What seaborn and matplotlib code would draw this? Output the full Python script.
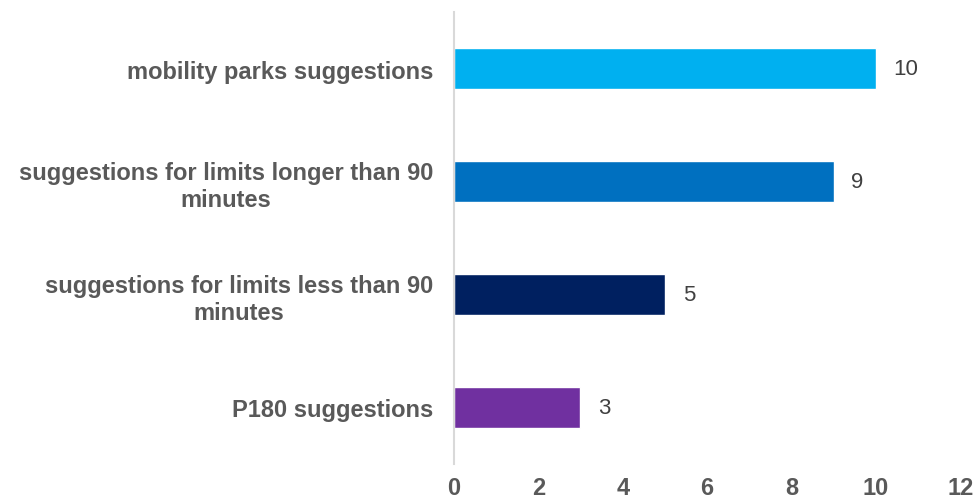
import matplotlib
matplotlib.use("Agg")
import matplotlib.pyplot as plt
import seaborn as sns
import pandas as pd

categories = [
    "mobility parks suggestions",
    "suggestions for limits longer than 90\nminutes",
    "suggestions for limits less than 90\nminutes",
    "P180 suggestions",
]
values = [10, 9, 5, 3]
colors = ["#00B0F0", "#0070C0", "#002060", "#7030A0"]
x_ticks = [0, 2, 4, 6, 8, 10, 12]

sns.set_style("white")
plt.rcParams["font.family"] = ["Liberation Sans", "DejaVu Sans"]

df = pd.DataFrame({"category": categories, "count": values})

fig = plt.figure(figsize=(9.76, 5.02), dpi=100)
ax = fig.add_axes([0.465, 0.074, 0.519, 0.90])

sns.barplot(data=df, x="count", y="category", hue="category",
            palette=colors, width=0.36, legend=False, ax=ax, saturation=1)

ax.set_xlim(0, 12)
ax.set_xticks(x_ticks)
ax.set_xticklabels([str(t) for t in x_ticks])
ax.set_xlabel("")
ax.set_ylabel("")

for spine in ["top", "right", "bottom"]:
    ax.spines[spine].set_visible(False)
ax.spines["left"].set_color("#D9D9D9")
ax.spines["left"].set_linewidth(1.5)

ax.tick_params(axis="both", length=0)
ax.tick_params(axis="x", pad=9, labelsize=17, labelcolor="#595959")
ax.tick_params(axis="y", pad=15, labelsize=17, labelcolor="#595959")
for lbl in ax.get_xticklabels():
    lbl.set_fontweight("bold")
for lbl in ax.get_yticklabels():
    lbl.set_fontweight("bold")
    lbl.set_multialignment("center")

for i, v in enumerate(values):
    ax.text(v + 0.42, i, str(v), va="center", ha="left",
            fontsize=16, color="#404040")

fig.savefig("out.png", dpi=100)
